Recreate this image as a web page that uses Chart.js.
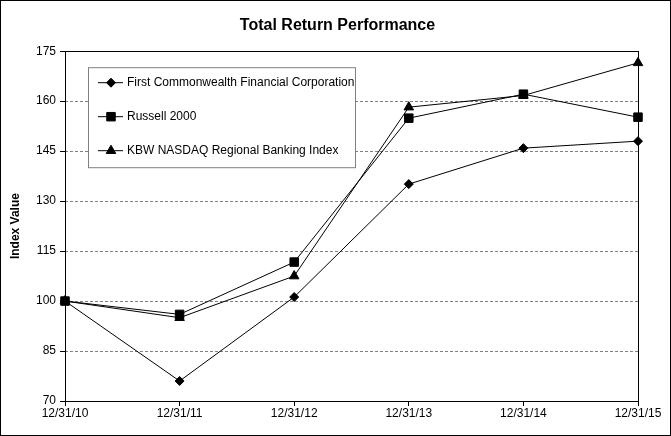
<!DOCTYPE html>
<html>
<head>
<meta charset="utf-8">
<script src="https://cdn.jsdelivr.net/npm/chart.js@4"></script>
<style>
  html, body { margin: 0; padding: 0; background: #fff; }
  #wrap { width: 671px; height: 436px; }
</style>
</head>
<body>
<div id="wrap"><canvas id="line-chart" width="671" height="436"></canvas></div>
<script>
const labels = ['12/31/10', '12/31/11', '12/31/12', '12/31/13', '12/31/14', '12/31/15'];
const fcfValues = [100, 76, 101.2, 135.1, 145.9, 148];
const russellValues = [100, 96, 111.7, 154.9, 162.1, 155.2];
const kbwValues = [100, 95, 107.5, 158.2, 161.7, 171.5];
const yTicks = [70, 85, 100, 115, 130, 145, 160, 175];

const FONT = '"Liberation Sans", Arial, sans-serif';

// white background, outer frame, plot box
const framePlugin = {
  id: 'frame',
  afterLayout(chart) {
    // center the title on the whole canvas, not the padded box
    if (chart.titleBlock) {
      chart.titleBlock.left = 0;
      chart.titleBlock.right = chart.width + 4;
    }
  },
  beforeDraw(chart) {
    const ctx = chart.ctx;
    ctx.save();
    ctx.fillStyle = '#fff';
    ctx.fillRect(0, 0, chart.width, chart.height);
    ctx.strokeStyle = '#000';
    ctx.lineWidth = 1;
    ctx.strokeRect(0.5, 0.5, chart.width - 1, chart.height - 1);
    ctx.restore();
  },
  beforeDatasetsDraw(chart) {
    const a = chart.chartArea;
    const ctx = chart.ctx;
    ctx.save();
    ctx.strokeStyle = '#000';
    ctx.lineWidth = 1;
    ctx.strokeRect(Math.round(a.left) + 0.5, Math.round(a.top) + 0.5,
      Math.round(a.right - a.left), Math.round(a.bottom - a.top));
    ctx.restore();
  }
};

// legend box inside plot area
const boxLegend = {
  id: 'boxLegend',
  afterDatasetsDraw(chart) {
    const ctx = chart.ctx;
    const a = chart.chartArea;
    const x0 = a.left + 23, y0 = a.top + 16, w = 267, h = 100;
    ctx.save();
    ctx.fillStyle = '#fff';
    ctx.fillRect(x0, y0, w, h);
    ctx.strokeStyle = '#808080';
    ctx.lineWidth = 1;
    ctx.strokeRect(x0 + 0.5, y0 + 0.5, w, h);
    ctx.font = '12px ' + FONT;
    ctx.textBaseline = 'middle';
    chart.data.datasets.forEach((ds, i) => {
      const y = y0 + 15.5 + i * 34;
      ctx.strokeStyle = '#000';
      ctx.fillStyle = '#000';
      ctx.beginPath();
      ctx.moveTo(x0 + 10, y);
      ctx.lineTo(x0 + 35, y);
      ctx.stroke();
      Chart.helpers.drawPoint(ctx, {
        pointStyle: ds.pointStyle, radius: ds.pointRadius, borderWidth: 1
      }, x0 + 23, y);
      ctx.fillStyle = '#000';
      ctx.fillText(ds.label, x0 + 39, y);
    });
    ctx.restore();
  }
};

function makeSet(label, data, style, r) {
  return {
    label: label,
    data: data,
    borderColor: '#000',
    backgroundColor: '#000',
    pointBackgroundColor: '#000',
    pointBorderColor: '#000',
    borderWidth: 1,
    pointStyle: style,
    pointRadius: r,
    pointHoverRadius: r,
    tension: 0
  };
}

new Chart(document.getElementById('line-chart'), {
  type: 'line',
  data: {
    labels: labels,
    datasets: [
      makeSet('First Commonwealth Financial Corporation', fcfValues, 'rectRot', 4.5),
      makeSet('Russell 2000', russellValues, 'rect', 6),
      makeSet('KBW NASDAQ Regional Banking Index', kbwValues, 'triangle', 5.5)
    ]
  },
  plugins: [framePlugin, boxLegend],
  options: {
    responsive: false,
    animation: false,
    devicePixelRatio: 1,
    layout: { padding: { top: 0, right: 33, bottom: 0, left: 0 } },
    plugins: {
      legend: { display: false },
      tooltip: { enabled: false },
      title: {
        display: true,
        text: 'Total Return Performance',
        color: '#000',
        font: { family: FONT, size: 16, weight: 'bold' },
        padding: { top: 16, bottom: 16 }
      }
    },
    scales: {
      x: {
        offset: false,
        grid: { drawOnChartArea: false, drawTicks: true, tickLength: 5, tickColor: '#000' },
        border: { display: false },
        ticks: { color: '#000', font: { family: FONT, size: 12 }, padding: 0, maxRotation: 0, autoSkip: false },
        afterFit(scale) { scale.height = 35; }
      },
      y: {
        min: 70,
        max: 175,
        afterBuildTicks(scale) { scale.ticks = yTicks.map(v => ({ value: v })); },
        grid: { color: '#808080', tickColor: '#000', tickLength: 5, lineWidth: 1 },
        border: { display: false, dash: [3, 2] },
        ticks: { color: '#000', font: { family: FONT, size: 12 }, padding: 4 },
        title: {
          display: true,
          text: 'Index Value',
          color: '#000',
          font: { family: FONT, size: 12, weight: 'bold' },
          padding: { top: 8, bottom: 2 }
        },
        afterFit(scale) { scale.width = 65; }
      }
    }
  }
});
</script>
</body>
</html>
